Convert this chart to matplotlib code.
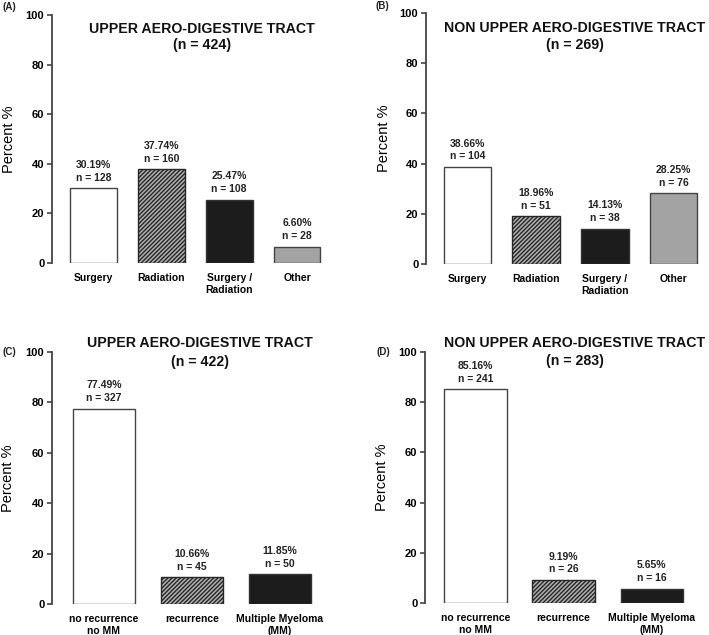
import numpy as np
import matplotlib
matplotlib.use("Agg")
import matplotlib.pyplot as plt

plt.rcParams['font.family'] = ['Liberation Sans', 'DejaVu Sans']
plt.rcParams['hatch.linewidth'] = 1.0

W, H = 709, 635

# data
treat_cats = ["Surgery", "Radiation", "Surgery /\nRadiation", "Other"]
a_pct = [30.19, 37.74, 25.47, 6.60]
a_n = [128, 160, 108, 28]
b_pct = [38.66, 18.96, 14.13, 28.25]
b_n = [104, 51, 38, 76]

outc_cats = ["no recurrence\nno MM", "recurrence", "Multiple Myeloma\n(MM)"]
c_pct = [77.49, 10.66, 11.85]
c_n = [327, 45, 50]
d_pct = [85.16, 9.19, 5.65]
d_n = [241, 26, 16]

title_main = ["UPPER AERO-DIGESTIVE TRACT", "NON UPPER AERO-DIGESTIVE TRACT",
              "UPPER AERO-DIGESTIVE TRACT", "NON UPPER AERO-DIGESTIVE TRACT"]
title_n = ["(n = 424)", "(n = 269)", "(n = 422)", "(n = 283)"]
tags = ["(A)", "(B)", "(C)", "(D)"]

treat_styles = [dict(facecolor="white", edgecolor="#444444", hatch=None),
                dict(facecolor="#b0b0b0", edgecolor="#262626", hatch="////////"),
                dict(facecolor="#1c1c1c", edgecolor="#333333", hatch=None),
                dict(facecolor="#a3a3a3", edgecolor="#444444", hatch=None)]
outc_styles = treat_styles[:3]

fig = plt.figure(figsize=(W / 100, H / 100), dpi=100)


def make_ax(x0, x1, ytop, ybot):
    return fig.add_axes([x0 / W, 1 - ybot / H, (x1 - x0) / W, (ybot - ytop) / H])


def draw(ax, cats, pct, n, styles, xmin, xmax, width, label_x):
    x = np.arange(len(cats))
    for xi, v, st in zip(x, pct, styles):
        ax.bar(xi, v, width=width, linewidth=1.0, **st)
    for xi, v, k in zip(x, pct, n):
        ax.annotate(f"{v:.2f}%\nn = {k}", (xi, v), xytext=(0, 4), textcoords="offset points",
                    ha="center", va="bottom", fontsize=7.5, fontweight="bold",
                    linespacing=1.35, color="#222222")
    ax.set_xlim(xmin, xmax)
    ax.set_ylim(0, 100)
    ax.set_yticks([0, 20, 40, 60, 80, 100])
    ax.set_xticks(x)
    ax.set_xticklabels(cats, fontsize=7.5, fontweight="bold", linespacing=1.3)
    for lab in ax.get_yticklabels():
        lab.set_fontweight("bold")
        lab.set_fontsize(8)
    ax.tick_params(axis="y", length=3.5, width=1.2, pad=2, color="#444444")
    ax.tick_params(axis="x", length=0, pad=7)
    for s in ["top", "right", "bottom"]:
        ax.spines[s].set_visible(False)
    ax.spines["left"].set_linewidth(1.3)
    ax.spines["left"].set_color("#444444")
    ax.set_ylabel("Percent %", fontsize=10.5)
    # label x given in pixels from spine
    w_px = ax.get_position().width * W
    ax.yaxis.set_label_coords(label_x / w_px, 0.5)
    ax.patch.set_alpha(0)


axA = make_ax(52, 331, 15, 263)
draw(axA, treat_cats, a_pct, a_n, treat_styles, -0.61, 3.5, 0.69, -36)
axB = make_ax(426, 706, 13, 264)
draw(axB, treat_cats, b_pct, b_n, treat_styles, -0.6, 3.47, 0.69, -35)
axC = make_ax(52, 324, 352, 604)
draw(axC, outc_cats, c_pct, c_n, outc_styles, -0.59, 2.5, 0.71, -37)
axD = make_ax(425, 696, 352, 603)
draw(axD, outc_cats, d_pct, d_n, outc_styles, -0.57, 2.5, 0.71, -36)

# titles
title_pos = [(202, 29, 45), (575, 28, 45), (200, 343, 362), (575, 343, 361)]
for (tx, ty1, ty2), t1, t2 in zip(title_pos, title_main, title_n):
    fig.text(tx / W, 1 - ty1 / H, t1, ha="center", va="center", fontsize=10.2,
             fontweight="bold", color="#111111")
    fig.text(tx / W, 1 - ty2 / H, t2, ha="center", va="center", fontsize=10.2,
             fontweight="bold", color="#111111")

tag_pos = [(9, 7), (382, 6), (9, 352), (383, 352)]
for (tx, ty), t in zip(tag_pos, tags):
    fig.text(tx / W, 1 - ty / H, t, ha="center", va="center", fontsize=7,
             fontweight="bold", color="#222222")

fig.savefig("out.png", dpi=100)
